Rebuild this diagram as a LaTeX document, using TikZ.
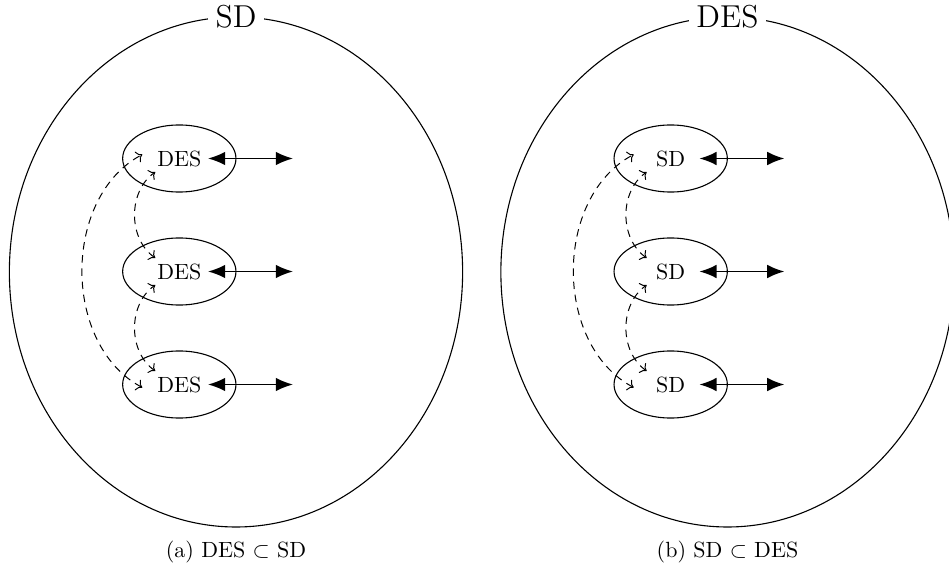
\documentclass[tikz,border=0pt]{standalone}
\usetikzlibrary{shapes.geometric,arrows.meta,calc}
\begin{document}
\begin{tikzpicture}[x=0.4545pt,y=-0.4545pt,
  bigell/.style={ellipse,draw,line width=0.5pt,minimum width=206pt,minimum height=231.8pt,inner sep=0pt},
  titlenode/.style={fill=white,font=\Large,inner sep=3.3pt},
  smallell/.style={ellipse,draw,line width=0.5pt,minimum width=51.5pt,minimum height=30.5pt,inner sep=1pt},
  harrow/.style={{Latex[length=7.8pt,width=6.2pt]}-{Latex[length=7.8pt,width=6.2pt]},line width=0.8pt},
  darrow/.style={<->,dash pattern=on 3.4pt off 2.6pt,line width=0.45pt},
  captionnode/.style={anchor=base,inner sep=0pt}]
\useasboundingbox (0,0) rectangle (949,568);
\clip (0,0) rectangle (949,568);
% ---------- left part ----------
\node[bigell] (L) at (236,272) {};
\node[titlenode] (Lt) at (L.north) {SD};
\node[smallell] (a1) at (179.3,158.5) {DES};
\node[smallell] (a2) at (179.3,271.5) {DES};
\node[smallell] (a3) at (179.3,384.5) {DES};
\coordinate (a1l) at ($(a1.center)+(28.7,0)$);
\coordinate (a1r) at ($(a1.center)+(113.7,0)$);
\coordinate (a2l) at ($(a2.center)+(28.7,0)$);
\coordinate (a2r) at ($(a2.center)+(113.7,0)$);
\coordinate (a3l) at ($(a3.center)+(28.7,0)$);
\coordinate (a3r) at ($(a3.center)+(113.7,0)$);
\draw[harrow] (a1l) -- (a1r);
\draw[harrow] (a2l) -- (a2r);
\draw[harrow] (a3l) -- (a3r);
\coordinate (a1o) at ($(a1.center)+(-37,-4)$);
\coordinate (a3o) at ($(a3.center)+(-37,3)$);
\coordinate (a1s) at ($(a1.center)+(-24,13.5)$);
\coordinate (a2n) at ($(a2.center)+(-24,-13.5)$);
\coordinate (a2s) at ($(a2.center)+(-24,13.5)$);
\coordinate (a3n) at ($(a3.center)+(-24,-13.5)$);
\draw[darrow] (a3o) to[bend left=62] (a1o);
\draw[darrow] (a2n) to[bend left=55] (a1s);
\draw[darrow] (a3n) to[bend left=55] (a2s);
\node[captionnode] (ca) at (236,557) {(a) DES $\subset$ SD};
% ---------- right part ----------
\node[bigell] (R) at (727.5,272) {};
\node[titlenode] (Rt) at (R.north) {DES};
\node[smallell] (b1) at (670.7,158.5) {SD};
\node[smallell] (b2) at (670.7,271.5) {SD};
\node[smallell] (b3) at (670.7,384.5) {SD};
\coordinate (b1l) at ($(b1.center)+(28.7,0)$);
\coordinate (b1r) at ($(b1.center)+(113.7,0)$);
\coordinate (b2l) at ($(b2.center)+(28.7,0)$);
\coordinate (b2r) at ($(b2.center)+(113.7,0)$);
\coordinate (b3l) at ($(b3.center)+(28.7,0)$);
\coordinate (b3r) at ($(b3.center)+(113.7,0)$);
\draw[harrow] (b1l) -- (b1r);
\draw[harrow] (b2l) -- (b2r);
\draw[harrow] (b3l) -- (b3r);
\coordinate (b1o) at ($(b1.center)+(-37,-4)$);
\coordinate (b3o) at ($(b3.center)+(-37,3)$);
\coordinate (b1s) at ($(b1.center)+(-24,13.5)$);
\coordinate (b2n) at ($(b2.center)+(-24,-13.5)$);
\coordinate (b2s) at ($(b2.center)+(-24,13.5)$);
\coordinate (b3n) at ($(b3.center)+(-24,-13.5)$);
\draw[darrow] (b3o) to[bend left=62] (b1o);
\draw[darrow] (b2n) to[bend left=55] (b1s);
\draw[darrow] (b3n) to[bend left=55] (b2s);
\node[captionnode] (cb) at (727.5,557) {(b) SD $\subset$ DES};
\end{tikzpicture}
\end{document}
